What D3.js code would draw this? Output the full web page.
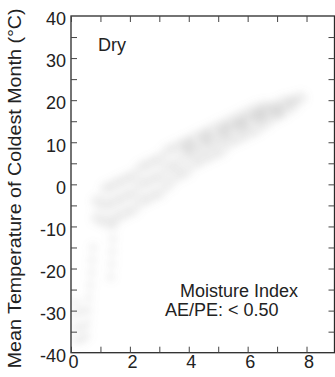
<!DOCTYPE html>
<html>
<head>
<meta charset="utf-8">
<script src="https://cdn.jsdelivr.net/npm/d3@7"></script>
<style>
  html, body { margin: 0; padding: 0; background: #fff; }
  svg text { font-family: "Liberation Sans", Arial, Helvetica, sans-serif; fill: #222; }
</style>
</head>
<body>
<div id="chart"></div>
<script>
// ---- data ----
// main diagonal band of stations, [x, coldest month °C]
const bandPts = [
  [0.9,-8],[0.9,-4],
  [1.2,-9],[1.2,-5],[1.2,-1],
  [1.5,-8],[1.5,-4],[1.5,0],
  [1.8,-7],[1.8,-3],[1.8,1],
  [2.1,-6],[2.1,-2],[2.1,2],
  [2.4,-4],[2.4,0],[2.4,4],
  [2.7,-3],[2.7,1],[2.7,5],
  [3.0,-2],[3.0,2],[3.0,6],
  [3.3,0],[3.3,4],[3.3,8],
  [3.6,2],[3.6,5],[3.6,9],
  [3.9,3],[3.9,7],[3.9,10],
  [4.2,5],[4.2,8],[4.2,11],
  [4.5,6],[4.5,9],[4.5,12],
  [4.8,7],[4.8,10],[4.8,13],
  [5.1,8],[5.1,11],[5.1,14],
  [5.4,10],[5.4,13],[5.4,15],
  [5.7,11],[5.7,14],[5.7,16],
  [6.0,12],[6.0,15],[6.0,17],
  [6.3,13],[6.3,16],[6.3,18],
  [6.6,14.5],[6.6,17],[6.6,18.5],
  [6.9,16],[6.9,18.5],
  [7.2,17],[7.2,19.5],
  [7.5,18.5],[7.5,20],[7.8,20.5]
];
// denser core of the band (darker in the scan)
const corePts = [
  [4.0,9],[4.6,11],[5.2,12.5],[5.8,14],[6.4,16],[7.0,17.5]
];
// tails dropping towards the cold end
const tailPts = [
  [1.45,-10],[1.42,-13],[1.4,-16],[1.38,-19],[1.35,-22],
  [0.75,-15],[0.72,-18],[0.7,-21],[0.65,-24],[0.6,-27],
  [0.58,-30],[0.55,-33],[0.52,-36]
];
const coldPts = [
  [0.15,-28],[0.15,-31],[0.15,-34],[0.15,-37],
  [0.35,-30],[0.35,-34],[0.35,-37]
];
const xTicks = [0, 2, 4, 6, 8];
const yTicks = [-40, -30, -20, -10, 0, 10, 20, 30, 40];
const yTitle = "Mean Temperature of Coldest Month (\u00B0C)";

const W = 335, H = 377;
const L = 71, R = 334.5, T = 16, B = 352.7;

const svg = d3.select("#chart").append("svg")
  .attr("width", W).attr("height", H);

const x = d3.scaleLinear().domain([0, 8.95]).range([L, R]);
const y = d3.scaleLinear().domain([-40, 40]).range([B, T]);

const defs = svg.append("defs");
defs.append("filter").attr("id", "blur")
  .attr("x", "-50%").attr("y", "-50%").attr("width", "200%").attr("height", "200%")
  .append("feGaussianBlur").attr("stdDeviation", 3.5);
defs.append("clipPath").attr("id", "plot")
  .append("rect").attr("x", L).attr("y", T).attr("width", R - L).attr("height", B - T);

// Cloud of points, blurred like the scan
const cloud = svg.append("g").attr("clip-path", "url(#plot)")
  .append("g").attr("filter", "url(#blur)");

cloud.selectAll(".b").data(bandPts.concat(corePts)).join("circle")
  .attr("cx", d => x(d[0])).attr("cy", d => y(d[1]))
  .attr("r", 7).attr("fill", "#8c8c8c").attr("fill-opacity", 0.13);

cloud.selectAll(".t").data(tailPts.concat(coldPts)).join("circle")
  .attr("cx", d => x(d[0])).attr("cy", d => y(d[1]))
  .attr("r", 5).attr("fill", "#8c8c8c").attr("fill-opacity", 0.1);

// Frame + inward ticks on all sides
svg.append("rect")
  .attr("x", L).attr("y", T).attr("width", R - L).attr("height", B - T)
  .attr("fill", "none").attr("stroke", "#2a2a2a").attr("stroke-width", 1.3);

const tk = 6;
const xMinor = d3.range(0, 9, 1);
const yMinor = d3.range(-35, 40, 5);

svg.append("g")
  .attr("transform", `translate(0,${B})`)
  .call(d3.axisBottom(x).tickValues(xMinor).tickSize(-tk).tickFormat(""))
  .call(g => g.select(".domain").remove())
  .call(g => g.selectAll(".tick line").attr("stroke", "#444"));

svg.append("g")
  .attr("transform", `translate(0,${T})`)
  .call(d3.axisTop(x).tickValues(xMinor).tickSize(-tk).tickFormat(""))
  .call(g => g.select(".domain").remove())
  .call(g => g.selectAll(".tick line").attr("stroke", "#444"));

svg.append("g")
  .attr("transform", `translate(${L},0)`)
  .call(d3.axisLeft(y).tickValues(yMinor).tickSize(-tk).tickFormat(""))
  .call(g => g.select(".domain").remove())
  .call(g => g.selectAll(".tick line").attr("stroke", "#444"));

svg.append("g")
  .attr("transform", `translate(${R},0)`)
  .call(d3.axisRight(y).tickValues(yMinor).tickSize(-tk).tickFormat(""))
  .call(g => g.select(".domain").remove())
  .call(g => g.selectAll(".tick line").attr("stroke", "#444"));

// Tick labels (plain hyphen for negatives, as in the scan)
svg.append("g")
  .attr("transform", `translate(0,${B})`)
  .call(d3.axisBottom(x).tickValues(xTicks).tickSize(0).tickPadding(3).tickFormat(d => String(d)))
  .call(g => g.select(".domain").remove())
  .call(g => g.selectAll("text").attr("font-size", 18).attr("fill", "#222")
    .attr("dx", 2).attr("font-family", "'Liberation Sans', Arial, sans-serif"));

svg.append("g")
  .attr("transform", `translate(${L},3)`)
  .call(d3.axisLeft(y).tickValues(yTicks).tickSize(0).tickPadding(5).tickFormat(d => String(d)))
  .call(g => g.select(".domain").remove())
  .call(g => g.selectAll("text").attr("font-size", 18).attr("fill", "#222")
    .attr("font-family", "'Liberation Sans', Arial, sans-serif"));

// Axis title
svg.append("text")
  .attr("transform", `translate(21,${(T + B) / 2 + 4}) rotate(-90)`)
  .attr("text-anchor", "middle").attr("font-size", 18)
  .attr("textLength", 360).attr("lengthAdjust", "spacingAndGlyphs")
  .text(yTitle);

// Annotations
svg.append("text").attr("x", 98).attr("y", 51).attr("font-size", 18).text("Dry");
svg.append("text").attr("x", 180).attr("y", 297).attr("font-size", 18).text("Moisture Index");
svg.append("text").attr("x", 165).attr("y", 316).attr("font-size", 18).text("AE/PE: < 0.50");
</script>
</body>
</html>
